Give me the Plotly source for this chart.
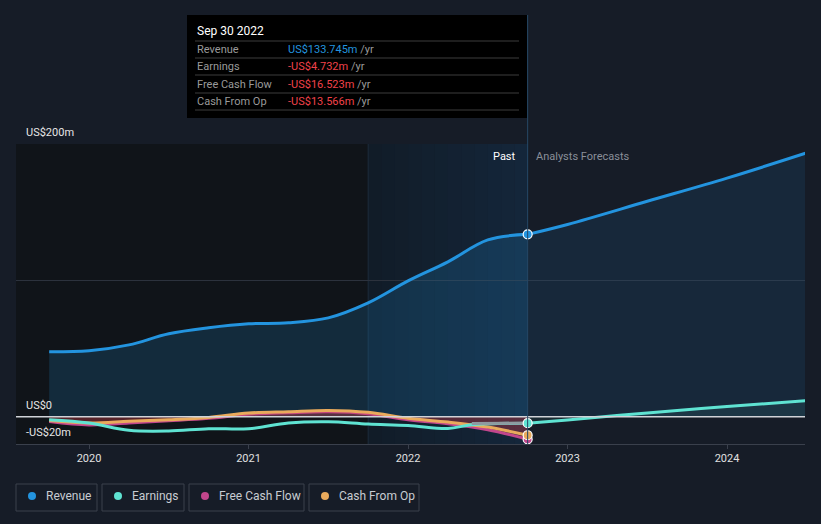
import plotly.graph_objects as go

# ---------------- data ----------------
rev_x = [2019.75, 2020.0, 2020.25, 2020.5, 2020.75, 2021.0, 2021.25, 2021.5, 2021.75, 2022.0, 2022.25, 2022.5, 2022.75]
rev_y = [47.6, 48.4, 52.7, 60.8, 65.2, 68.1, 68.9, 72.5, 83.5, 99.6, 113.6, 129.7, 133.745]
rev_fx = [2022.75, 2023.0, 2023.5, 2024.0, 2024.5]
rev_fy = [133.745, 141.0, 158.0, 175.0, 193.5]

earn_x = [2019.75, 2020.0, 2020.25, 2020.5, 2020.75, 2021.0, 2021.25, 2021.5, 2021.75, 2022.0, 2022.25, 2022.4, 2022.75]
earn_y = [-2.2, -4.6, -10.0, -10.5, -8.8, -8.8, -4.6, -3.7, -5.4, -6.4, -8.6, -5.9, -4.732]
earn_fx = [2022.75, 2023.0, 2023.5, 2024.0, 2024.5]
earn_fy = [-4.732, -2.4, 2.8, 7.5, 11.8]
earn_px = [2022.4, 2022.75]
earn_py = [-4.9, -4.732]

fcf_x = [2019.75, 2020.0, 2020.25, 2020.5, 2020.75, 2021.0, 2021.25, 2021.5, 2021.75, 2022.0, 2022.25, 2022.5, 2022.75]
fcf_y = [-3.5, -6.0, -4.6, -3.0, -1.2, 1.8, 2.9, 3.6, 2.2, -2.3, -5.2, -9.6, -16.523]

cfo_x = [2019.75, 2020.0, 2020.25, 2020.5, 2020.75, 2021.0, 2021.25, 2021.5, 2021.75, 2022.0, 2022.25, 2022.5, 2022.75]
cfo_y = [-2.7, -4.6, -3.4, -2.2, -0.5, 2.7, 3.7, 4.6, 3.2, -1.2, -3.9, -7.6, -13.566]

year_ticks = [2020, 2021, 2022, 2023, 2024]
year_labels = ["2020", "2021", "2022", "2023", "2024"]

tip_rows = [
    ("Revenue", "US$133.745m", "#2394df"),
    ("Earnings", "-US$4.732m", "#f0424a"),
    ("Free Cash Flow", "-US$16.523m", "#f0424a"),
    ("Cash From Op", "-US$13.566m", "#f0424a"),
]
legend_items = [("Revenue", "#2394df"), ("Earnings", "#5fe3d2"),
                ("Free Cash Flow", "#c2468c"), ("Cash From Op", "#e9aa5c")]

# ---------------- geometry ----------------
W, H = 821, 524
L, R, T, B = 16, 805, 144, 444
X0, X1 = 2019.542, 2024.489
Y0, Y1 = -20, 200


def px(xp):
    return (xp - L) / (R - L)


def py(yp):
    return (B - yp) / (B - T)


BG = "#161c27"
FONT = "Roboto"

fig = go.Figure()

# revenue
fig.add_trace(go.Scatter(x=rev_x, y=rev_y, mode="lines", line=dict(color="#2394df", width=3, shape="spline"),
                         fill="tozeroy", fillcolor="rgba(35,148,223,0.18)", hoverinfo="skip"))
fig.add_trace(go.Scatter(x=rev_fx, y=rev_fy, mode="lines", line=dict(color="#2394df", width=3, shape="spline"),
                         fill="tozeroy", fillcolor="rgba(35,148,223,0.10)", hoverinfo="skip"))

# cash from op and fcf
fig.add_trace(go.Scatter(x=fcf_x, y=fcf_y, mode="lines", line=dict(color="#c2468c", width=3, shape="spline"),
                         fill="tozeroy", fillcolor="rgba(200,60,70,0.25)", hoverinfo="skip"))
fig.add_trace(go.Scatter(x=cfo_x, y=cfo_y, mode="lines", line=dict(color="#e9aa5c", width=3, shape="spline"),
                         fill="tozeroy", fillcolor="rgba(200,60,70,0.18)", hoverinfo="skip"))

# earnings
fig.add_trace(go.Scatter(x=earn_x, y=earn_y, mode="lines", line=dict(color="#5fe3d2", width=3, shape="spline"),
                         hoverinfo="skip"))
fig.add_trace(go.Scatter(x=earn_px, y=earn_py, mode="lines", line=dict(color="#8e9aa0", width=3),
                         hoverinfo="skip"))
fig.add_trace(go.Scatter(x=earn_fx, y=earn_fy, mode="lines", line=dict(color="#5fe3d2", width=3, shape="spline"),
                         fill="tozeroy", fillcolor="rgba(95,227,210,0.08)", hoverinfo="skip"))

# end markers
fig.add_trace(go.Scatter(x=[fcf_x[-1], cfo_x[-1], earn_x[-1], rev_x[-1]],
                         y=[fcf_y[-1], cfo_y[-1], earn_y[-1], rev_y[-1]], mode="markers",
                         marker=dict(size=9, color=["#c2468c", "#e9aa5c", "#5fe3d2", "#2394df"],
                                     line=dict(color="white", width=1.2)), hoverinfo="skip"))

shapes = []
annotations = []

# background regions
shapes.append(dict(type="rect", xref="x", yref="paper", x0=X0, x1=2021.75, y0=0, y1=1,
                   fillcolor="#101419", line_width=0, layer="below"))
# gradient band for the last year of the past
n = 12
c0 = (17, 28, 40)
c1 = (20, 38, 58)
for i in range(n):
    t = i / (n - 1)
    c = tuple(round(a + (b - a) * t) for a, b in zip(c0, c1))
    shapes.append(dict(type="rect", xref="x", yref="paper",
                       x0=2021.75 + i / n, x1=2021.75 + (i + 1) / n + 0.002, y0=0, y1=1,
                       fillcolor="rgb(%d,%d,%d)" % c, line_width=0, layer="below"))
shapes.append(dict(type="line", xref="x", yref="paper", x0=2021.75, x1=2021.75, y0=0, y1=1,
                   line=dict(color="#1d2b3b", width=1), layer="below"))
# zero line
shapes.append(dict(type="line", xref="paper", yref="y", x0=0, x1=1, y0=0, y1=0,
                   line=dict(color="#d0d3d8", width=1.3), layer="above"))
# cursor line
shapes.append(dict(type="line", xref="x", yref="paper", x0=2022.75, x1=2022.75, y0=0, y1=py(15),
                   line=dict(color="#264766", width=1)))

# tooltip
shapes.append(dict(type="rect", xref="paper", yref="paper", x0=px(187), x1=px(527), y0=py(118), y1=py(15),
                   fillcolor="#000000", line_width=0))
for yl in [41, 58, 75, 93, 110]:
    shapes.append(dict(type="line", xref="paper", yref="paper", x0=px(195), x1=px(519), y0=py(yl), y1=py(yl),
                       line=dict(color="#3c3c3c", width=1)))
annotations.append(dict(xref="paper", yref="paper", x=px(195), y=py(31), text="Sep 30 2022", showarrow=False,
                        xanchor="left", yanchor="middle", font=dict(family=FONT, size=12, color="#ffffff")))
for i, (lab, val, col) in enumerate(tip_rows):
    yy = [49.5, 66.5, 84, 101][i]
    annotations.append(dict(xref="paper", yref="paper", x=px(195), y=py(yy), text=lab, showarrow=False,
                            xanchor="left", yanchor="middle", font=dict(family=FONT, size=11, color="#9a9a9a")))
    annotations.append(dict(xref="paper", yref="paper", x=px(286), y=py(yy),
                            text=f"<span style='color:{col}'>{val}</span> /yr", showarrow=False,
                            xanchor="left", yanchor="middle", font=dict(family=FONT, size=11, color="#9a9a9a")))

# y labels
for txt, yy in [("US$200m", 132), ("US$0", 405), ("-US$20m", 432)]:
    annotations.append(dict(xref="paper", yref="paper", x=px(24), y=py(yy), text=txt, showarrow=False,
                            xanchor="left", yanchor="middle", font=dict(family=FONT, size=11, color="#e6e6e6")))

# past / forecast
annotations.append(dict(xref="paper", yref="paper", x=px(518), y=py(156), text="Past", showarrow=False,
                        xanchor="right", yanchor="middle", font=dict(family=FONT, size=11, color="#ffffff")))
annotations.append(dict(xref="paper", yref="paper", x=px(534), y=py(156), text="Analysts Forecasts",
                        showarrow=False, xanchor="left", yanchor="middle",
                        font=dict(family=FONT, size=11, color="#8a8f99")))

# legend boxes
boxes = [(16, 97), (102, 184), (189, 304), (309, 419)]
for (lab, col), (bx0, bx1) in zip(legend_items, boxes):
    shapes.append(dict(type="rect", xref="paper", yref="paper", x0=px(bx0), x1=px(bx1), y0=py(511), y1=py(484),
                       fillcolor="rgba(0,0,0,0)", line=dict(color="#3a404c", width=1)))
    shapes.append(dict(type="circle", xref="paper", yref="paper", x0=px(bx0 + 12), x1=px(bx0 + 20),
                       y0=py(500), y1=py(492), fillcolor=col, line_width=0))
    annotations.append(dict(xref="paper", yref="paper", x=px(bx0 + 28), y=py(496), text=lab, showarrow=False,
                            xanchor="left", yanchor="middle", font=dict(family=FONT, size=12, color="#c8ccd2")))

fig.update_layout(
    width=W, height=H,
    margin=dict(l=L, r=W - R, t=T, b=H - B),
    paper_bgcolor=BG, plot_bgcolor=BG,
    showlegend=False,
    shapes=shapes, annotations=annotations,
    font=dict(family=FONT),
    xaxis=dict(range=[X0, X1], tickvals=year_ticks, ticktext=year_labels, showgrid=False, zeroline=False,
               showline=True, linecolor="#3a404c", linewidth=1, ticks="outside", ticklen=4,
               tickcolor="#3a404c", tickfont=dict(family=FONT, size=11, color="#e0e0e0")),
    yaxis=dict(range=[Y0, Y1], tickvals=[100, 200], showticklabels=False, gridcolor="#2c323d",
               zeroline=False, showline=False),
)

fig.write_html("out.html")
